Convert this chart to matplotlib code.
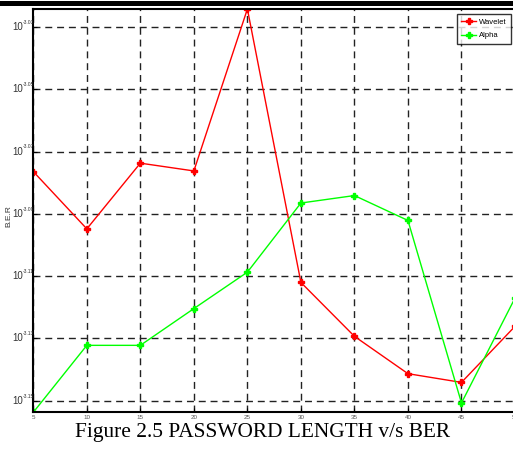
import matplotlib
matplotlib.use("Agg")
import matplotlib.pyplot as plt
from matplotlib.patches import Rectangle
from matplotlib import font_manager
import numpy as np

# password length vs BER (exponents of 10)
pass_len = [5, 10, 15, 20, 25, 30, 35, 40, 45, 50]
wavelet_exp = [-3.0764, -3.0948, -3.0737, -3.0762, -3.0242,
               -3.1120, -3.1293, -3.1413, -3.1441, -3.1261]
alpha_exp = [-3.1537, -3.1322, -3.1322, -3.1204, -3.1087,
             -3.0865, -3.0841, -3.0921, -3.1507, -3.1170]
ytick_exp = [-3.15, -3.13, -3.11, -3.09, -3.07, -3.05, -3.03]

wavelet = 10 ** np.array(wavelet_exp)
alpha = 10 ** np.array(alpha_exp)

# narrow sans for the small axis texts, if there is one
names = {f.name for f in font_manager.fontManager.ttflist}
narrow = 'Liberation Sans Narrow' if 'Liberation Sans Narrow' in names else 'Liberation Sans'

fig = plt.figure(figsize=(5.13, 4.49), dpi=100)
ax = fig.add_axes([33.3 / 513, 1 - 412.3 / 449, (515 - 33.3) / 513, (412.3 - 9) / 449])

ax.plot(pass_len, wavelet, color='#ff0000', lw=1.0, marker='P', ms=4, label='Wavelet')
ax.plot(pass_len, alpha, color='#00ff00', lw=1.0, marker='P', ms=4, label='Alpha')

ax.set_yscale('log')
ax.set_xlim(5, 50)
ax.set_ylim(alpha.min(), wavelet.max())
ax.set_xticks(pass_len)
ax.set_xticklabels([str(v) for v in pass_len], fontsize=4.5, color='#555555', family=narrow)
ax.set_yticks([10 ** e for e in ytick_exp])
ax.set_yticklabels([])
ax.yaxis.set_minor_locator(matplotlib.ticker.NullLocator())
ax.tick_params(direction='in', length=3, width=0.8, pad=2)

# y tick labels drawn as "10" plus a tiny exponent, like the original
ytr = ax.get_yaxis_transform()
for e in ytick_exp:
    ax.text(-0.0215, 10 ** e, '10', transform=ytr, ha='right', va='center',
            fontsize=7, color='#333333', family=narrow, clip_on=False)
    ax.text(-0.0225, 10 ** (e + 0.0015), '%.2f' % e, transform=ytr, ha='left', va='center',
            fontsize=3.6, color='#333333', family=narrow, clip_on=False)

ax.grid(True, color='#222222', linestyle=(0, (5, 3.5)), linewidth=1.0)
for s in ax.spines.values():
    s.set_linewidth(1.5)
    s.set_color('black')

fig.text(9 / 513, 1 - 216 / 449, 'B.E.R', rotation=90, fontsize=6, color='#333333',
         family=narrow, ha='center', va='center')

leg = ax.legend(loc='upper right', prop={'family': narrow, 'size': 5.5}, frameon=True,
                fancybox=False, edgecolor='black', handlelength=2.0, handletextpad=0.3,
                borderpad=0.6, labelspacing=0.8, borderaxespad=0,
                bbox_to_anchor=((511 - 33.3) / 481.7, (412.3 - 14) / 403.3))
leg.get_frame().set_linewidth(1.0)

# thick black rule along the top of the page
fig.add_artist(Rectangle((0, 1 - 6 / 449), 1, 5 / 449, transform=fig.transFigure,
                         color='black', lw=0))

fig.text(262.5 / 513, 1 - 433 / 449, 'Figure 2.5 PASSWORD LENGTH v/s BER',
         family='Liberation Serif', fontsize=15.4, ha='center', va='center')

fig.savefig('out.png', dpi=100)
